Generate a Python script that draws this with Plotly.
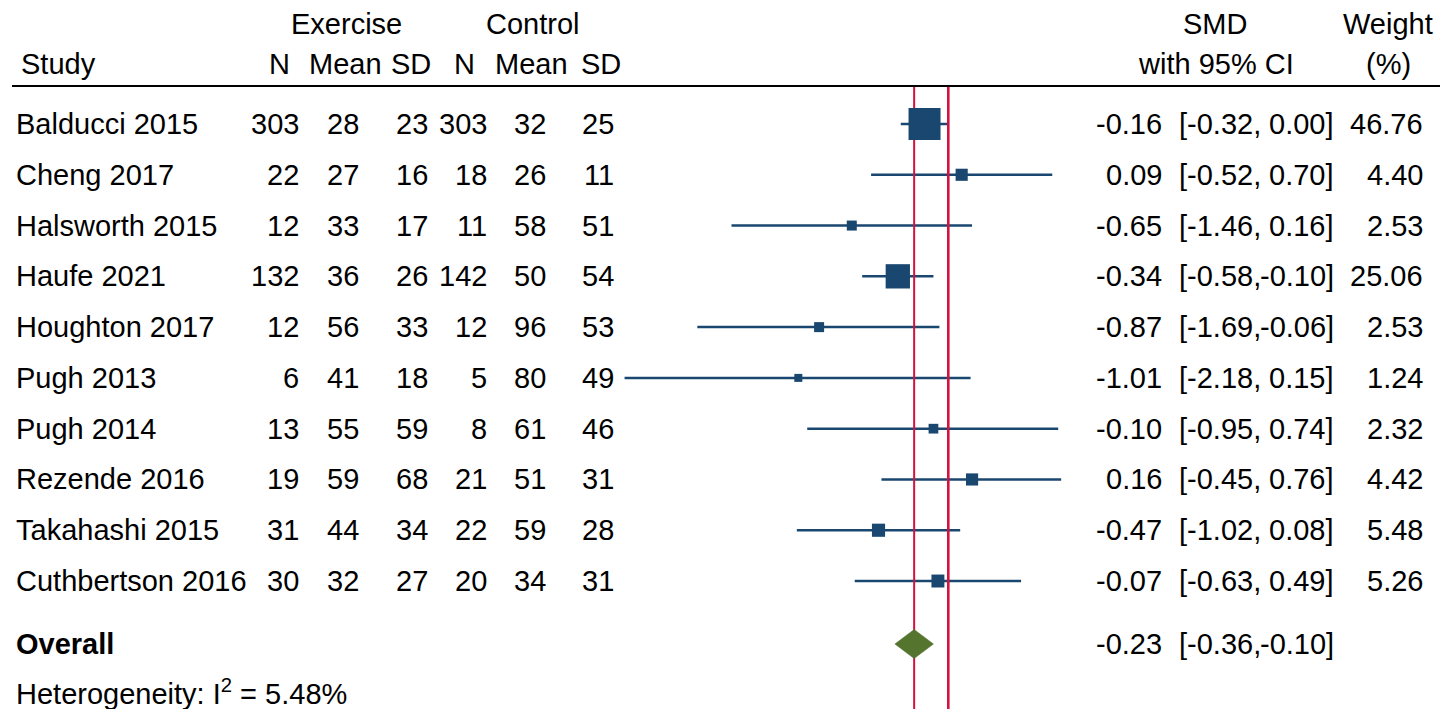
import math
import plotly.graph_objects as go

# ---------------- data ----------------
studies = ["Balducci 2015", "Cheng 2017", "Halsworth 2015", "Haufe 2021", "Houghton 2017",
           "Pugh 2013", "Pugh 2014", "Rezende 2016", "Takahashi 2015", "Cuthbertson 2016"]
ex_n = [303, 22, 12, 132, 12, 6, 13, 19, 31, 30]
ex_mean = [28, 27, 33, 36, 56, 41, 55, 59, 44, 32]
ex_sd = [23, 16, 17, 26, 33, 18, 59, 68, 34, 27]
ct_n = [303, 18, 11, 142, 12, 5, 8, 21, 22, 20]
ct_mean = [32, 26, 58, 50, 96, 80, 61, 51, 59, 34]
ct_sd = [25, 11, 51, 54, 53, 49, 46, 31, 28, 31]
smd = [-0.16, 0.09, -0.65, -0.34, -0.87, -1.01, -0.10, 0.16, -0.47, -0.07]
ci_lo = [-0.32, -0.52, -1.46, -0.58, -1.69, -2.18, -0.95, -0.45, -1.02, -0.63]
ci_hi = [0.00, 0.70, 0.16, -0.10, -0.06, 0.15, 0.74, 0.76, 0.08, 0.49]
weight = [46.76, 4.40, 2.53, 25.06, 2.53, 1.24, 2.32, 4.42, 5.48, 5.26]
overall_smd = -0.23
overall_lo = -0.36
overall_hi = -0.10
i2 = 5.48

# ---------------- layout geometry (page pixels) ----------------
PAGE_W, PAGE_H = 1453, 709
OFF = 8                                    # default body margin of the html page
W, H = PAGE_W - OFF, PAGE_H - OFF
X0_PX, PX_PER_UNIT = 948.3, 148.5          # page x of SMD=0 and scale
ROW0_PX, ROW_PX = 124.0, 50.78             # first row centre and row spacing
x_range = [(OFF - X0_PX) / PX_PER_UNIT, (PAGE_W - X0_PX) / PX_PER_UNIT]
y_range = [(PAGE_H - ROW0_PX) / ROW_PX, (OFF - ROW0_PX) / ROW_PX]


def r_of(py):
    return (py - ROW0_PX) / ROW_PX


def xp(px):
    return (px - OFF) / W


def yp(py):
    return 1 - (py - OFF) / H


rows = list(range(len(studies)))
overall_row = r_of(644)
het_row = r_of(692)
header_line_row = r_of(86)

NAVY = "#1A476F"
GREEN = "#55752F"
RED = "#D3123F"
FONT = "Liberation Sans, Arial, sans-serif"
FS = 29

fig = go.Figure()

# CI lines
cx, cy = [], []
for i in rows:
    cx += [ci_lo[i], ci_hi[i], None]
    cy += [i, i, None]
fig.add_trace(go.Scatter(x=cx, y=cy, mode="lines", line=dict(color=NAVY, width=2.5),
                         hoverinfo="skip", showlegend=False))

# reference lines (overall effect and no effect)
fig.add_trace(go.Scatter(x=[overall_smd, overall_smd], y=[header_line_row, y_range[0] + 1],
                         mode="lines", line=dict(color=RED, width=2), showlegend=False,
                         hoverinfo="skip"))
fig.add_trace(go.Scatter(x=[0, 0], y=[header_line_row, y_range[0] + 1],
                         mode="lines", line=dict(color=RED, width=2.6), showlegend=False,
                         hoverinfo="skip"))

# study squares, area proportional to weight
sizes = [4.19 * math.sqrt(w) + 3.34 for w in weight]
fig.add_trace(go.Scatter(x=smd, y=rows, mode="markers",
                         marker=dict(symbol="square", size=sizes, color=NAVY, opacity=1,
                                     line=dict(width=0)),
                         showlegend=False))

# overall diamond
hd = 0.2856
fig.add_trace(go.Scatter(x=[overall_lo, overall_smd, overall_hi, overall_smd, overall_lo],
                         y=[overall_row, overall_row - hd, overall_row, overall_row + hd, overall_row],
                         mode="lines", fill="toself", fillcolor=GREEN,
                         line=dict(color=GREEN, width=0.5), showlegend=False, hoverinfo="skip"))

ann = []


def add(text, xpx, y, anchor, yref="y", size=FS):
    ann.append(dict(text=text, x=xp(xpx), xref="paper", y=y, yref=yref,
                    xanchor=anchor, yanchor="middle", showarrow=False,
                    font=dict(family=FONT, size=size, color="#000000")))


# headers
add("Exercise", 346, yp(24), "center", yref="paper")
add("Control", 533, yp(24), "center", yref="paper")
add("Study", 19, yp(64), "left", yref="paper")
add("N", 279, yp(64), "center", yref="paper")
add("Mean", 345, yp(64), "center", yref="paper")
add("SD", 411, yp(64), "center", yref="paper")
add("N", 464, yp(64), "center", yref="paper")
add("Mean", 531, yp(64), "center", yref="paper")
add("SD", 601, yp(64), "center", yref="paper")
add("SMD", 1215, yp(24), "center", yref="paper")
add("with 95% CI", 1216, yp(64), "center", yref="paper")
add("Weight", 1388, yp(24), "center", yref="paper")
add("(%)", 1388, yp(64), "center", yref="paper")

# study rows
for i in rows:
    add(studies[i], 14, i, "left")
    add(str(ex_n[i]), 301, i, "right")
    add(str(ex_mean[i]), 361, i, "right")
    add(str(ex_sd[i]), 430, i, "right")
    add(str(ct_n[i]), 489, i, "right")
    add(str(ct_mean[i]), 548, i, "right")
    add(str(ct_sd[i]), 616, i, "right")
    add(f"{smd[i]:.2f}", 1164, i, "right")
    add(f"[{ci_lo[i]:.2f},", 1263, i, "right")
    add(f"{ci_hi[i]:.2f}]", 1336, i, "right")
    add(f"{weight[i]:.2f}", 1425, i, "right")

# overall
add("<b>Overall</b>", 14, overall_row, "left")
add(f"{overall_smd:.2f}", 1164, overall_row, "right")
add(f"[{overall_lo:.2f},", 1263, overall_row, "right")
add(f"{overall_hi:.2f}]", 1336, overall_row, "right")
add(f"Heterogeneity: I<sup>2</sup> = {i2:.2f}%", 14, het_row, "left")

fig.update_layout(
    width=W, height=H,
    margin=dict(l=0, r=0, t=0, b=0),
    paper_bgcolor="white", plot_bgcolor="white",
    xaxis=dict(range=x_range, visible=False, fixedrange=True),
    yaxis=dict(range=y_range, visible=False, fixedrange=True),
    annotations=ann,
    shapes=[dict(type="line", xref="paper", yref="paper", x0=xp(12), x1=xp(1440),
                 y0=yp(86), y1=yp(86), line=dict(color="#000000", width=2.2))],
    showlegend=False,
)

fig.write_html("out.html")
